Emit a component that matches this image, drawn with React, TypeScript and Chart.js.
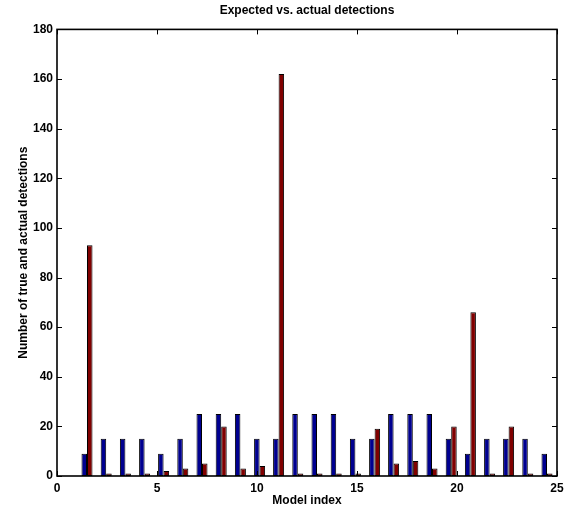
import React, { useEffect, useRef } from "react";
import { Chart, registerables } from "chart.js";

Chart.register(...registerables);

// Model positions on the x axis (25 models spread between 1.5 and 24.5)
const modelPositions = [
  1.5, 2.46, 3.42, 4.38, 5.33, 6.29, 7.25, 8.21, 9.17, 10.13, 11.08, 12.04, 13.0,
  13.96, 14.92, 15.88, 16.83, 17.79, 18.75, 19.71, 20.67, 21.63, 22.58, 23.54, 24.5,
];
const expectedDetections = [
  9, 15, 15, 15, 9, 15, 25, 25, 25, 15, 15, 25, 25, 25, 15, 15, 25, 25, 25, 15, 9, 15, 15, 15, 9,
];
const actualDetections = [
  93, 1, 1, 1, 2, 3, 5, 20, 3, 4, 162, 1, 1, 1, 1, 19, 5, 6, 3, 20, 66, 1, 20, 1, 1,
];
const xTickValues = [0, 5, 10, 15, 20, 25];
const yTickValues = [0, 20, 40, 60, 80, 100, 120, 140, 160, 180];

const FONT = "'Liberation Sans', Arial, Helvetica, sans-serif";

const framePlugin = {
  id: "matlabFrame",
  afterDatasetsDraw(chart: any) {
    const { ctx, chartArea, scales } = chart;
    const { left, right, top, bottom } = chartArea;
    const x = scales.x;
    const y = scales.y;
    ctx.save();
    ctx.strokeStyle = "#000";
    ctx.lineWidth = 1;
    ctx.beginPath();
    const len = 5;
    x.ticks.forEach((t: any) => {
      const px = Math.round(x.getPixelForValue(t.value)) + 0.5;
      ctx.moveTo(px, bottom);
      ctx.lineTo(px, bottom - len);
      ctx.moveTo(px, top);
      ctx.lineTo(px, top + len);
    });
    y.ticks.forEach((t: any) => {
      const py = Math.round(y.getPixelForValue(t.value)) + 0.5;
      ctx.moveTo(left, py);
      ctx.lineTo(left + len, py);
      ctx.moveTo(right, py);
      ctx.lineTo(right - len, py);
    });
    ctx.stroke();
    ctx.lineWidth = 1.6;
    ctx.strokeRect(left, top, right - left, bottom - top);
    ctx.restore();
  },
};

export default function App() {
  const canvasRef = useRef<HTMLCanvasElement | null>(null);

  useEffect(() => {
    document.body.style.margin = "0";
    const canvas = canvasRef.current;
    if (!canvas) return;
    const chart = new Chart(canvas, {
      type: "bar",
      data: {
        datasets: [
          {
            label: "Expected",
            data: modelPositions.map((x, i) => ({ x, y: expectedDetections[i] })),
            backgroundColor: "#000090",
            borderColor: "#000000",
            borderWidth: 1,
            borderSkipped: false,
          },
          {
            label: "Actual",
            data: modelPositions.map((x, i) => ({ x, y: actualDetections[i] })),
            backgroundColor: "#800000",
            borderColor: "#000000",
            borderWidth: 1,
            borderSkipped: false,
          },
        ],
      },
      options: {
        responsive: false,
        animation: false,
        maintainAspectRatio: false,
        layout: { padding: { left: 0, right: 12, top: 0, bottom: 0 } },
        datasets: {
          bar: { categoryPercentage: 0.58, barPercentage: 1.0 },
        },
        plugins: {
          legend: { display: false },
          tooltip: { enabled: false },
          title: {
            display: true,
            text: "Expected vs. actual detections",
            color: "#000",
            fullSize: false,
            font: { family: FONT, size: 12, weight: "bold" },
            padding: { top: 3, bottom: 12 },
          },
        },
        scales: {
          x: {
            type: "linear",
            min: 0,
            max: 25,
            offset: false,
            grid: { display: false, drawTicks: false, offset: false },
            border: { display: false },
            afterBuildTicks: (scale: any) => {
              scale.ticks = xTickValues.map((v) => ({ value: v }));
            },
            ticks: {
              color: "#000",
              padding: 5,
              maxRotation: 0,
              font: { family: FONT, size: 12, weight: "bold" },
              callback: (v: any) => String(v),
            },
            title: {
              display: true,
              text: "Model index",
              color: "#000",
              padding: { top: 0, bottom: 0 },
              font: { family: FONT, size: 12, weight: "bold" },
            },
            afterFit: (scale: any) => {
              scale.height = 32;
            },
          },
          y: {
            type: "linear",
            min: 0,
            max: 180,
            grid: { display: false, drawTicks: false },
            border: { display: false },
            afterBuildTicks: (scale: any) => {
              scale.ticks = yTickValues.map((v) => ({ value: v }));
            },
            ticks: {
              color: "#000",
              padding: 4,
              font: { family: FONT, size: 12, weight: "bold" },
              callback: (v: any) => String(v),
            },
            title: {
              display: true,
              text: "Number of true and actual detections",
              color: "#000",
              padding: { top: 16, bottom: 0 },
              font: { family: FONT, size: 12, weight: "bold" },
            },
            afterFit: (scale: any) => {
              scale.width = 57;
            },
          },
        },
      },
      plugins: [framePlugin],
    } as any);
    return () => chart.destroy();
  }, []);

  return (
    <div style={{ width: 569, height: 508 }}>
      <canvas ref={canvasRef} width={569} height={508} style={{ display: "block" }} />
    </div>
  );
}
